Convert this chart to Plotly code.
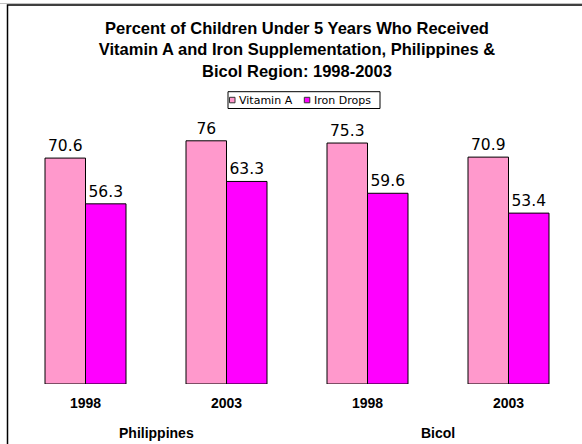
import plotly.graph_objects as go

categories = ["1998", "2003", "1998", "2003"]
groups = ["Philippines", "Bicol"]
vitamin_a = [70.6, 76, 75.3, 70.9]
iron_drops = [56.3, 63.3, 59.6, 53.4]
series_names = ["Vitamin A", "Iron Drops"]
series_colors = ["#FF99CC", "#FF00FF"]
title_lines = [
    "Percent of Children Under 5 Years Who Received",
    "Vitamin A and Iron Supplementation, Philippines &",
    "Bicol Region: 1998-2003",
]

W, H = 582, 444
L, R, T, B = 15, 3, 100, 60
PW, PH = W - L - R, H - T - B
Y_MAX = PH / 3.2


def px(x):
    return (x - L) / PW


def py(y):
    return (H - B - y) / PH


xs = list(range(len(categories)))

fig = go.Figure()
for name, vals, col in zip(series_names, [vitamin_a, iron_drops], series_colors):
    fig.add_trace(go.Bar(
        x=xs, y=vals, name=name,
        marker=dict(color=col, line=dict(color="#000000", width=1)),
        text=[f"{v:g}" for v in vals], textposition="outside",
        textfont=dict(family="DejaVu Sans", size=15.5, color="#000000"),
        cliponaxis=False, showlegend=False,
    ))

annotations = []
for i, g in enumerate(groups):
    annotations.append(dict(
        x=2 * i + 0.5, xref="x", y=py(433), yref="paper",
        text=f"<b>{g}</b>", showarrow=False,
        font=dict(family="Liberation Sans", size=14, color="#000000"),
        xanchor="center", yanchor="middle",
    ))

# chart frame (left and top edges visible) and compact legend box
leg_text_x = [237, 311.5]
leg_sq_x = [229.5, 304.3]
shapes = [
    dict(type="rect", xref="paper", yref="paper", x0=px(-10), x1=px(W + 20), y0=py(3.5), y1=py(H + 20),
         line=dict(color="#C0C0C0", width=1), fillcolor="rgba(0,0,0,0)", layer="above"),
    dict(type="rect", xref="paper", yref="paper", x0=px(7.5), x1=px(W + 20), y0=py(5), y1=py(H + 20),
         line=dict(color="#000000", width=1.5), fillcolor="rgba(0,0,0,0)", layer="above"),
    dict(type="rect", xref="paper", yref="paper", x0=px(228), x1=px(380), y0=py(91.7), y1=py(108.5),
         line=dict(color="#000000", width=1), fillcolor="#FFFFFF", layer="above"),
]
for name, col, tx, sx in zip(series_names, series_colors, leg_text_x, leg_sq_x):
    shapes.append(dict(type="rect", xref="paper", yref="paper",
                       x0=px(sx), x1=px(sx + 5.5), y0=py(97.3), y1=py(102.8),
                       line=dict(color="#333333", width=1), fillcolor=col, layer="above"))
    annotations.append(dict(
        x=px(tx), xref="paper", y=py(100.2), yref="paper", text=name, showarrow=False,
        font=dict(family="DejaVu Sans", size=11, color="#000000"),
        xanchor="left", yanchor="middle",
    ))

fig.update_layout(
    width=W, height=H,
    margin=dict(l=L, r=R, t=T, b=B, pad=0),
    paper_bgcolor="#FFFFFF", plot_bgcolor="#FFFFFF",
    barmode="group", bargap=0.4255, bargroupgap=0,
    title=dict(
        text="<b>" + "<br>".join(title_lines) + "</b>",
        x=0.5, xref="paper", xanchor="center",
        y=1 - 34 / H, yref="container", yanchor="top",
        font=dict(family="Liberation Sans", size=16.5, color="#000000"),
    ),
    xaxis=dict(
        tickmode="array", tickvals=xs, ticktext=[f"<b>{c}</b>" for c in categories],
        range=[-0.5, len(categories) - 0.5], showgrid=False, zeroline=False,
        showline=False, ticks="",
        tickfont=dict(family="Liberation Sans", size=14, color="#000000"),
        ticklabelstandoff=9,
    ),
    yaxis=dict(range=[0, Y_MAX], visible=False, showgrid=False, zeroline=False),
    annotations=annotations,
    shapes=shapes,
    showlegend=False,
)

fig.write_html("out.html", config={"displayModeBar": False},
               post_script="document.body.style.margin='0';")
